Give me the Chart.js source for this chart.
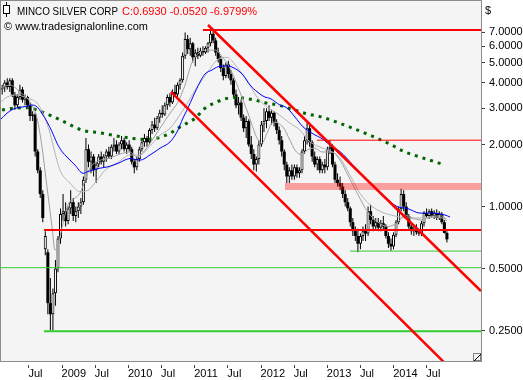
<!DOCTYPE html>
<html><head><meta charset="utf-8">
<script src="https://cdn.jsdelivr.net/npm/chart.js@4/dist/chart.umd.min.js"></script>
<style>html,body{margin:0;padding:0;background:#fff}#wrap{width:523px;height:380px;position:relative}</style>
</head><body><div id="wrap"><canvas id="c" width="523" height="380"></canvas></div>
<script>
// ---- data (bi-weekly candles from 2008-02-08) ----
const firstCandleDate = Date.UTC(2008, 1, 8);
const candleStepDays = 14;
const opens = [3.7,3.8,4.0,3.8,4.1,3.5,3.1,3.4,3.7,3.3,3.4,3.1,2.75,2.8,1.85,1.5,1.15,0.62,0.6,0.34,0.30,0.38,0.50,0.70,0.92,0.95,0.85,0.98,1.05,0.9,0.95,1.0,1.05,1.35,1.9,1.65,1.75,1.5,1.6,1.75,1.65,1.75,1.85,1.75,1.95,2.0,1.85,2.0,2.1,1.9,2.0,1.9,1.65,1.55,1.7,1.9,2.05,2.15,2.05,2.35,2.5,2.4,2.7,2.85,2.8,3.1,3.4,3.2,3.6,3.5,3.9,4.1,5.4,6.5,5.8,6.2,5.3,5.6,5.4,5.7,5.6,5.9,6.2,6.9,6.4,5.6,5.2,4.7,4.3,4.9,4.4,4.1,3.5,3.1,3.2,2.7,2.4,2.6,2.0,1.8,1.6,1.7,2.0,2.5,2.6,2.9,2.7,2.85,2.55,2.35,2.1,1.85,1.6,1.4,1.5,1.4,1.55,1.45,1.5,1.85,2.1,2.4,2.05,1.75,1.6,1.7,1.5,1.6,1.55,1.9,1.95,1.6,1.35,1.3,1.25,1.15,1.05,0.98,0.84,0.76,0.72,0.66,0.72,0.76,0.74,0.95,0.86,0.8,0.84,0.79,0.83,0.8,0.72,0.66,0.64,0.73,0.84,0.97,1.15,1.0,0.9,0.8,0.76,0.78,0.75,0.74,0.83,0.93,0.9,0.95,0.9,0.93,0.88,0.92,0.84,0.745];
const highs = [3.9,4.1,4.2,4.2,4.2,3.6,3.5,3.9,3.8,3.5,3.45,3.2,2.9,2.85,1.9,1.55,1.2,0.76,0.62,0.45,0.40,0.55,0.72,0.98,1.15,1.05,1.0,1.2,1.1,1.0,1.05,1.1,1.4,2.15,2.0,1.85,1.8,1.65,1.8,1.85,1.8,1.9,1.95,2.0,2.15,2.1,2.05,2.2,2.15,2.05,2.1,1.95,1.7,1.75,1.95,2.15,2.25,2.2,2.4,2.6,2.7,2.75,2.95,3.1,3.2,3.5,3.55,3.7,3.9,4.0,4.2,5.6,7.0,6.8,6.6,6.3,5.8,5.9,5.9,6.0,6.0,6.3,7.2,7.1,6.6,5.9,5.4,4.9,5.0,5.1,4.6,4.2,3.7,3.4,3.3,2.8,2.75,2.65,2.2,1.9,1.75,2.1,2.6,3.0,3.0,3.1,2.95,2.9,2.65,2.45,2.2,1.9,1.65,1.55,1.6,1.6,1.6,1.55,1.9,2.2,2.55,2.5,2.1,1.85,1.75,1.75,1.65,1.7,1.95,2.1,2.0,1.65,1.45,1.4,1.3,1.2,1.1,1.0,0.88,0.8,0.78,0.74,0.8,0.82,1.0,1.02,0.9,0.88,0.88,0.86,0.9,0.82,0.75,0.7,0.75,0.86,1.0,1.22,1.2,1.05,0.92,0.84,0.8,0.82,0.78,0.85,0.95,0.98,0.97,0.98,0.96,0.97,0.95,0.94,0.86,0.76];
const lows = [3.5,3.6,3.7,3.6,3.4,2.95,3.0,3.3,3.2,3.1,3.0,2.6,2.6,1.75,1.45,1.1,0.84,0.58,0.30,0.25,0.25,0.33,0.48,0.66,0.85,0.80,0.82,0.92,0.85,0.84,0.88,0.92,1.02,1.3,1.55,1.45,1.4,1.3,1.55,1.6,1.55,1.65,1.7,1.7,1.85,1.8,1.8,1.9,1.85,1.8,1.85,1.6,1.45,1.5,1.65,1.85,1.95,1.95,2.0,2.25,2.3,2.35,2.55,2.7,2.75,2.95,3.05,3.15,3.4,3.4,3.7,4.0,5.2,5.5,5.4,5.0,4.8,5.2,5.3,5.4,5.5,5.6,6.0,6.2,5.4,5.0,4.5,4.1,4.2,4.2,3.9,3.4,3.0,2.8,2.6,2.3,2.15,1.95,1.7,1.5,1.48,1.6,1.95,2.3,2.4,2.6,2.5,2.45,2.25,2.0,1.75,1.5,1.3,1.3,1.35,1.35,1.38,1.38,1.45,1.8,2.0,1.95,1.65,1.55,1.5,1.45,1.45,1.45,1.5,1.8,1.55,1.3,1.25,1.2,1.1,1.0,0.95,0.8,0.72,0.68,0.6,0.62,0.68,0.68,0.72,0.82,0.76,0.77,0.76,0.76,0.77,0.7,0.63,0.61,0.62,0.71,0.82,0.95,0.95,0.88,0.78,0.73,0.72,0.73,0.72,0.72,0.8,0.88,0.87,0.88,0.87,0.86,0.86,0.82,0.74,0.67];
const closes = [3.8,4.0,3.8,4.1,3.5,3.1,3.4,3.7,3.3,3.4,3.1,2.75,2.8,1.85,1.5,1.15,0.88,0.72,0.34,0.30,0.38,0.50,0.70,0.92,0.95,0.85,0.98,1.05,0.9,0.95,1.0,1.05,1.35,1.9,1.65,1.75,1.5,1.6,1.75,1.65,1.75,1.85,1.75,1.95,2.0,1.85,2.0,2.1,1.9,2.0,1.9,1.65,1.55,1.7,1.9,2.05,2.15,2.05,2.35,2.5,2.4,2.7,2.85,2.8,3.1,3.4,3.2,3.6,3.5,3.9,4.1,5.4,6.5,5.8,6.2,5.3,5.6,5.4,5.7,5.6,5.9,6.2,6.9,6.4,5.6,5.2,4.7,4.3,4.9,4.4,4.1,3.5,3.1,3.2,2.7,2.4,2.6,2.0,1.8,1.6,1.7,2.0,2.5,2.6,2.9,2.7,2.85,2.55,2.35,2.1,1.85,1.6,1.4,1.5,1.4,1.55,1.45,1.5,1.85,2.1,2.4,2.05,1.75,1.6,1.7,1.5,1.6,1.55,1.9,1.95,1.6,1.35,1.3,1.25,1.15,1.05,0.98,0.84,0.76,0.72,0.66,0.72,0.76,0.74,0.95,0.86,0.8,0.84,0.79,0.83,0.8,0.72,0.66,0.64,0.73,0.84,0.97,1.15,1.0,0.9,0.8,0.76,0.78,0.75,0.74,0.83,0.93,0.9,0.95,0.9,0.93,0.88,0.92,0.84,0.745,0.693];

// moving averages: [decimal year, value]
const maFast = [[2008.071,3.76],[2008.222,3.89],[2008.373,3.60],[2008.523,3.22],[2008.629,2.69],[2008.704,1.95],[2008.780,1.24],[2008.855,0.80],[2008.900,0.615],[2008.946,0.65],[2009.006,0.79],[2009.096,1.02],[2009.202,1.10],[2009.277,1.16],[2009.353,1.34],[2009.428,1.54],[2009.549,1.66],[2009.730,1.72],[2009.881,1.80],[2010.031,1.84],[2010.137,1.74],[2010.258,1.88],[2010.333,2.03],[2010.484,2.40],[2010.635,2.84],[2010.755,3.22],[2010.861,3.89],[2010.966,5.00],[2011.087,5.62],[2011.193,5.75],[2011.313,5.75],[2011.419,5.35],[2011.539,4.70],[2011.660,3.80],[2011.811,2.84],[2011.947,2.15],[2012.022,2.03],[2012.097,2.27],[2012.188,2.57],[2012.339,2.43],[2012.444,2.10],[2012.520,1.88],[2012.625,1.78],[2012.701,1.88],[2012.821,1.92],[2012.927,1.84],[2013.078,1.84],[2013.198,1.68],[2013.319,1.42],[2013.470,1.14],[2013.620,0.94],[2013.771,0.84],[2013.922,0.80],[2014.073,0.84],[2014.178,0.91],[2014.284,0.88],[2014.435,0.86],[2014.586,0.90],[2014.736,0.90],[2014.812,0.85]];
const maSlow = [[2008.071,3.19],[2008.177,3.40],[2008.327,3.48],[2008.478,3.36],[2008.629,3.18],[2008.719,2.84],[2008.825,2.27],[2008.900,1.82],[2008.976,1.50],[2009.127,1.30],[2009.277,1.18],[2009.398,1.20],[2009.534,1.34],[2009.654,1.50],[2009.850,1.64],[2010.031,1.78],[2010.182,1.78],[2010.333,1.97],[2010.484,2.22],[2010.635,2.40],[2010.831,2.94],[2011.042,3.80],[2011.193,4.44],[2011.343,5.14],[2011.494,5.30],[2011.645,4.75],[2011.796,4.11],[2011.947,3.40],[2012.097,3.04],[2012.248,2.84],[2012.444,2.54],[2012.595,2.35],[2012.716,2.10],[2012.866,1.96],[2013.017,1.88],[2013.198,1.72],[2013.349,1.42],[2013.500,1.16],[2013.651,1.02],[2013.831,0.94],[2014.028,0.90],[2014.209,0.88],[2014.405,0.88],[2014.631,0.89],[2014.812,0.87]];
const maBlue = [[2008.071,2.63],[2008.177,2.84],[2008.267,2.97],[2008.373,3.03],[2008.478,3.07],[2008.554,3.11],[2008.629,3.05],[2008.704,2.83],[2008.780,2.58],[2008.855,2.31],[2008.931,2.03],[2009.006,1.85],[2009.081,1.74],[2009.202,1.59],[2009.323,1.45],[2009.398,1.48],[2009.549,1.53],[2009.700,1.56],[2009.850,1.62],[2010.031,1.71],[2010.182,1.68],[2010.333,1.78],[2010.484,1.92],[2010.635,2.06],[2010.740,2.30],[2010.831,2.69],[2010.906,3.01],[2010.981,3.41],[2011.087,4.02],[2011.162,4.40],[2011.268,4.60],[2011.358,4.77],[2011.494,4.81],[2011.615,4.68],[2011.735,4.35],[2011.841,3.89],[2011.947,3.61],[2012.067,3.40],[2012.143,3.35],[2012.293,3.11],[2012.399,3.01],[2012.520,2.72],[2012.640,2.44],[2012.776,2.27],[2012.942,2.12],[2013.078,1.95],[2013.198,1.85],[2013.394,1.59],[2013.605,1.34],[2013.847,1.14],[2014.058,1.00],[2014.209,0.98],[2014.405,0.93],[2014.601,0.93],[2014.782,0.91],[2014.857,0.89]];
const maLong = [[2008.101,2.94],[2008.267,3.00],[2008.478,3.02],[2008.629,2.94],[2008.855,2.75],[2009.081,2.54],[2009.308,2.35],[2009.579,2.28],[2009.835,2.20],[2010.077,2.14],[2010.288,2.12],[2010.484,2.17],[2010.635,2.27],[2010.755,2.40],[2010.891,2.54],[2011.011,2.68],[2011.162,3.00],[2011.343,3.22],[2011.494,3.35],[2011.615,3.39],[2011.766,3.35],[2011.916,3.29],[2012.067,3.19],[2012.263,3.11],[2012.489,2.96],[2012.716,2.81],[2012.866,2.75],[2013.093,2.61],[2013.349,2.43],[2013.651,2.22],[2013.952,2.01],[2014.148,1.86],[2014.405,1.74],[2014.631,1.65],[2014.782,1.59]];

// drawn levels and trend lines: [start year, value] pairs
const redLevels = [[2011.132,7.2],[2008.734,0.77]];
const redThinLevels = [[2012.851,2.10]];
const pinkZone = [2012.369, 1.253];
const greenThinLevels = [[2013.349,0.608],[2008.0,0.505]];
const greenThickLevels = [[2008.734,0.248]];
const trendUpper = [[2011.208,7.61],[2015.325,0.389]];
const trendLower = [[2010.650,3.60],[2015.009,0.147]];

const yTickValues = [0.25,0.5,1,2,3,4,5,6,7];
const xTickValues = [2008.5,2009,2009.5,2010,2010.5,2011,2011.5,2012,2012.5,2013,2013.5,2014,2014.5];
const X_MIN = 2008.086, X_MAX = 2015.325, Y_MIN = 0.178, Y_MAX = 9.95;

// ---- build ----
function decYear(ms){ const d=new Date(ms); const y=d.getUTCFullYear(); const a=Date.UTC(y,0,1), b=Date.UTC(y+1,0,1); return y+(ms-a)/(b-a); }
const candleT = opens.map((_,i)=>decYear(firstCandleDate + i*candleStepDays*864e5));
const isUp = i => closes[i] >= opens[i];

const FONT = "'Liberation Sans', Arial, sans-serif";
Chart.defaults.font.family = FONT;
Chart.defaults.font.size = 11;
Chart.defaults.color = '#000';

const lineDS = (pts, color, width, order, extra) => Object.assign({
  type:'line', data: pts.map(p=>({x:p[0], y:p[1]})), borderColor: color, borderWidth: width,
  pointRadius: 0, fill: false, order: order, tension: 0
}, extra||{});
const levelDS = (lv, color, width, order, extra) => lineDS([[lv[0], lv[1]], [X_MAX+0.2, lv[1]]], color, width, order, extra);

const datasets = [
  { type:'bar', label:'wick', data: candleT.map((t,i)=>({x:t, y:[lows[i], highs[i]]})),
    backgroundColor:'#000', borderWidth:0, grouped:false, barPercentage:0.4, categoryPercentage:1, inflateAmount:0, order:20 },
  { type:'bar', label:'body', data: candleT.map((t,i)=>({x:t, y:[Math.min(opens[i],closes[i]), Math.max(opens[i],closes[i])]})),
    backgroundColor: c => isUp(c.dataIndex) ? '#ffffff' : '#000000', borderColor:'#000',
    borderWidth: c => isUp(c.dataIndex) ? 1 : 0, borderSkipped:false, minBarLength:1,
    grouped:false, barPercentage:1.2, categoryPercentage:1, inflateAmount:0, order:19 },
  lineDS(maLong, '#006400', 3, 8, {borderDash:[3,5], borderCapStyle:'butt', cubicInterpolationMode:'monotone'}),
  lineDS(maSlow, '#b4b4b4', 1, 7, {cubicInterpolationMode:'monotone'}),
  lineDS(maFast, '#a0a0a0', 1, 6, {cubicInterpolationMode:'monotone'}),
  lineDS(maBlue, '#0000ff', 1, 5, {cubicInterpolationMode:'monotone'}),
  levelDS(pinkZone, 'rgba(255,0,0,0.35)', 7, 4, {borderCapStyle:'butt'}),
  ...greenThinLevels.map(l=>levelDS(l, '#33cc33', 1, 3)),
  ...greenThickLevels.map(l=>levelDS(l, '#33cc33', 2, 3)),
  ...redThinLevels.map(l=>levelDS(l, '#ff0000', 1, 2)),
  ...redLevels.map(l=>levelDS(l, '#ff0000', 2, 2)),
  lineDS(trendUpper, '#ff0000', 2.5, 1),
  lineDS(trendLower, '#ff0000', 2.5, 1)
];

const framePlugin = {
  id:'frame',
  beforeDraw(chart){
    const {ctx, chartArea:a} = chart;
    ctx.save(); ctx.fillStyle='#f4f4f4';
    ctx.fillRect(a.left-1, a.top-1, a.right-a.left+1, a.bottom-a.top+1);
    ctx.restore();
  },
  afterDraw(chart){
    const {ctx, chartArea:a} = chart;
    ctx.save();
    ctx.strokeStyle='#8c8c8c'; ctx.lineWidth=1;
    ctx.strokeRect(a.left-0.5, a.top-0.5, a.right-a.left+1, a.bottom-a.top+1);
    // x tick marks
    const xs = chart.scales.x;
    ctx.strokeStyle='#404040';
    xTickValues.forEach(v=>{ const px=Math.round(xs.getPixelForValue(v))+0.5; ctx.beginPath(); ctx.moveTo(px,a.bottom+4); ctx.lineTo(px,a.bottom+7); ctx.stroke(); });
    // resize glyph
    ctx.strokeStyle='#808080';
    ctx.strokeRect(a.right-7.5, a.bottom-7.5, 7, 7);
    ctx.strokeStyle='#000'; ctx.beginPath(); ctx.moveTo(a.right-7, a.bottom); ctx.lineTo(a.right, a.bottom-7); ctx.stroke();
    // header icon
    ctx.strokeStyle='#000'; ctx.beginPath(); ctx.moveTo(6.5,2); ctx.lineTo(6.5,17); ctx.stroke();
    ctx.fillStyle='#fff'; ctx.fillRect(3.5,5.5,6,8); ctx.strokeRect(3.5,5.5,6,8);
    // header texts
    ctx.font = "11px " + FONT; ctx.textBaseline='alphabetic'; ctx.textAlign='left';
    ctx.fillStyle='#000'; ctx.fillText('MINCO SILVER CORP', 17, 15, 101);
    ctx.fillStyle='#ff0000'; ctx.fillText('C:0.6930 -0.0520 -6.9799%', 122, 15, 140);
    ctx.fillStyle='#000'; ctx.fillText('\u00A9 www.tradesignalonline.com', 4, 30, 144);
    ctx.fillText('$', 485, 14);
    ctx.restore();
  }
};

new Chart(document.getElementById('c'), {
  type:'bar',
  data:{ datasets },
  options:{
    responsive:false, animation:false, events:[],
    layout:{ padding:{ left:1, top:1, right:0, bottom:0 } },
    plugins:{ legend:{display:false}, tooltip:{enabled:false} },
    scales:{
      x:{ type:'linear', position:'bottom', min:X_MIN, max:X_MAX, offset:false,
          grid:{display:false, drawTicks:false, tickLength:0, offset:false}, border:{display:false},
          ticks:{ align:'start', padding:6, maxRotation:0, autoSkip:false, color:'#000',
                  callback: v => Number.isInteger(v) ? String(v) : 'Jul' },
          afterBuildTicks: s => { s.ticks = xTickValues.map(v=>({value:v})); },
          afterFit: s => { s.height = 19; s.paddingLeft = 0; s.paddingRight = 0; } },
      y:{ type:'logarithmic', position:'right', min:Y_MIN, max:Y_MAX, beginAtZero:false,
          grid:{ display:true, drawOnChartArea:false, drawTicks:true, tickLength:4, color:'#404040' },
          border:{display:false},
          ticks:{ padding:4, color:'#000', autoSkip:false, callback: v => Number(v).toFixed(4) },
          afterBuildTicks: s => { s.ticks = yTickValues.map(v=>({value:v})); },
          afterFit: s => { s.width = 42; s.paddingTop = 0; s.paddingBottom = 0; } }
    }
  },
  plugins:[framePlugin]
});
</script>
</body></html>
